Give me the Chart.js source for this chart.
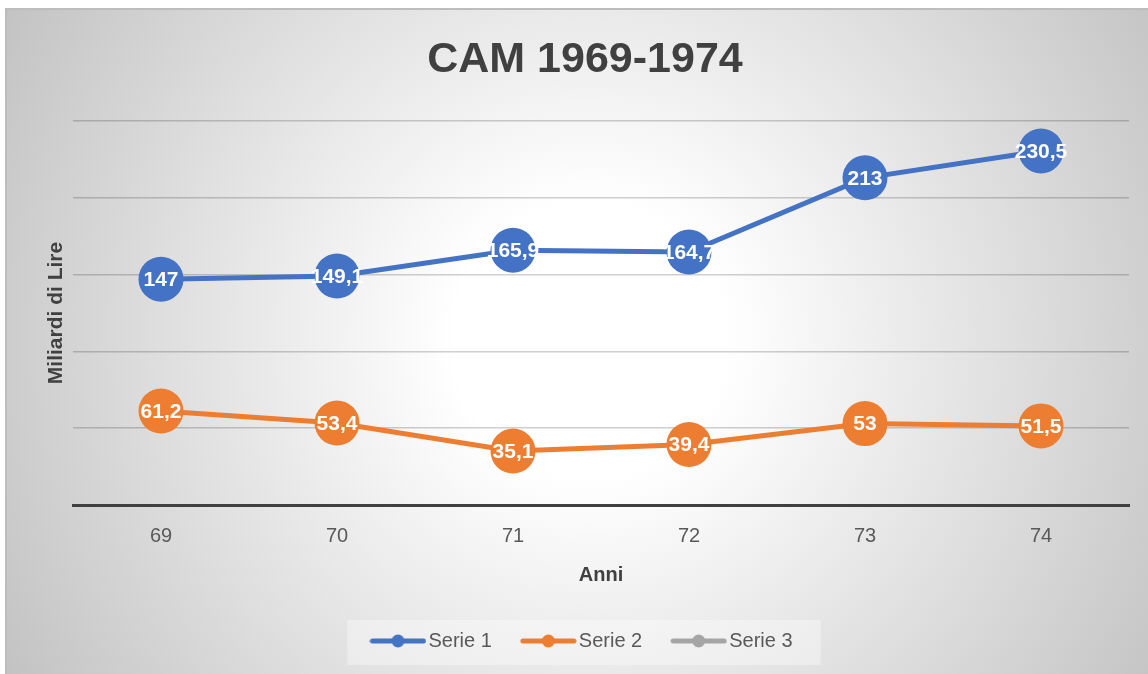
<!DOCTYPE html>
<html>
<head>
<meta charset="utf-8">
<title>CAM 1969-1974</title>
<script src="https://cdn.jsdelivr.net/npm/chart.js@4.4.1/dist/chart.umd.min.js"></script>
<style>
  html, body {margin: 0; padding: 0; background: #ffffff; overflow: hidden;}
  #wrap {position: absolute; left: 0; top: 0; width: 1170px; height: 674px;}
</style>
</head>
<body>
<div id="wrap"><canvas id="chart1canvas" width="1170" height="674"></canvas></div>
<script>
/* Data */
const years=["69","70","71","72","73","74"];
const serie1=[147,149.1,165.9,164.7,213,230.5];
const serie2=[61.2,53.4,35.1,39.4,53,51.5];
const serie3=[];
const seriesNames=["Serie 1","Serie 2","Serie 3"];
const seriesColors=["#4472c4","#ed7d31","#a5a5a5"];

const fontName="'Liberation Sans', Arial, sans-serif";
const canvasWidth=1170;
const plotLeft=73;
const plotRight=1129;

/**
 * Legend marker: line with a dot in the middle.
 */
function makeMarker(color) {
  const c=document.createElement("canvas");
  c.width=57;
  c.height=14;
  const ctx=c.getContext("2d");
  ctx.strokeStyle=color;
  ctx.lineWidth=5;
  ctx.lineCap="round";
  ctx.beginPath();
  ctx.moveTo(3,7);
  ctx.lineTo(54,7);
  ctx.stroke();
  ctx.fillStyle=color;
  ctx.beginPath();
  ctx.arc(28.5,7,6.5,0,Math.PI*2);
  ctx.fill();
  return c;
}
const markers=seriesColors.map(c=>makeMarker(c));

/* Background: frame with radial gradient, light box behind the legend */
const backgroundPlugin={
  id: "background",
  beforeDraw(chart) {
    const ctx=chart.ctx;
    const w=chart.width, h=chart.height;
    ctx.save();
    ctx.fillStyle="#ffffff";
    ctx.fillRect(0,0,w,h);
    const g=ctx.createRadialGradient(590,340,0,590,340,680);
    g.addColorStop(0,"#ffffff");
    g.addColorStop(0.2,"#ffffff");
    g.addColorStop(1,"#c2c2c2");
    ctx.fillStyle=g;
    ctx.fillRect(5,8,w-5,h-8);
    ctx.fillStyle="#bdbdbd";
    ctx.fillRect(5,8,w-5,2);
    ctx.fillRect(5,8,2,h-8);

    const boxes=chart.legend.legendHitBoxes;
    if (boxes && boxes.length>0) {
      const first=boxes[0], last=boxes[boxes.length-1];
      ctx.fillStyle="rgba(255,255,255,0.35)";
      ctx.fillRect(first.left-30,first.top-11,last.left+last.width-first.left+58,45);
    }
    ctx.restore();
  }
};

/* Value labels in white on the points */
const valueLabelPlugin={
  id: "valueLabels",
  afterDatasetsDraw(chart) {
    const ctx=chart.ctx;
    ctx.save();
    ctx.font="bold 21px "+fontName;
    ctx.fillStyle="#ffffff";
    ctx.textAlign="center";
    ctx.textBaseline="middle";
    chart.data.datasets.forEach((ds,i)=>{
      const meta=chart.getDatasetMeta(i);
      meta.data.forEach((pt,k)=>{
        const v=ds.data[k];
        if (v==null) return;
        ctx.fillText(String(v).replace(".",","),pt.x,pt.y+1);
      });
    });
    ctx.restore();
  }
};

const chartData={
  labels: years,
  datasets: [serie1,serie2,serie3].map((values,i)=>({
    label: seriesNames[i],
    data: values,
    borderColor: seriesColors[i],
    backgroundColor: seriesColors[i],
    borderWidth: 5,
    pointRadius: 22.5,
    pointHoverRadius: 22.5,
    pointBorderWidth: 0,
    pointBackgroundColor: seriesColors[i],
    tension: 0,
    clip: false,
    yAxisID: "y"
  }))
};

const chartOptions={
  responsive: false,
  animation: false,
  devicePixelRatio: 1,
  layout: {padding: {left: 0, right: 0, top: 0, bottom: 13}},
  scales: {
    x: {
      offset: true,
      grid: {display: false, drawTicks: false},
      border: {display: true, color: "#404040", width: 3},
      ticks: {color: "#595959", font: {family: fontName, size: 20}, padding: 19},
      title: {display: true, text: "Anni", color: "#404040", font: {family: fontName, size: 20, weight: "bold"}, padding: {top: 0, bottom: 8}},
      afterFit: scale=>{scale.height=90;}
    },
    y: {
      position: "left",
      min: 0,
      max: 250,
      ticks: {display: false, stepSize: 50},
      grid: {color: "rgba(0,0,0,0.19)", lineWidth: 1.5, drawTicks: false},
      border: {display: false},
      title: {display: true, text: "Miliardi di Lire", color: "#404040", font: {family: fontName, size: 21, weight: "bold"}, padding: {top: 44, bottom: 0}},
      afterFit: scale=>{scale.width=plotLeft;}
    },
    yRight: {
      position: "right",
      display: true,
      ticks: {display: false},
      grid: {display: false},
      border: {display: false},
      afterFit: scale=>{scale.width=canvasWidth-plotRight;}
    }
  },
  plugins: {
    title: {
      display: true,
      text: "CAM 1969-1974",
      color: "#404040",
      font: {family: fontName, size: 43, weight: "bold"},
      padding: {top: 34, bottom: 35.4}
    },
    legend: {
      position: "bottom",
      labels: {
        usePointStyle: true,
        pointStyleWidth: 41,
        padding: 36,
        color: "#595959",
        font: {family: fontName, size: 20},
        generateLabels: chart=>chart.data.datasets.map((ds,i)=>({
          text: ds.label,
          pointStyle: markers[i],
          fillStyle: "transparent",
          strokeStyle: "transparent",
          lineWidth: 0,
          fontColor: "#595959",
          hidden: false,
          datasetIndex: i
        }))
      }
    },
    tooltip: {enabled: false}
  }
};

new Chart(document.getElementById("chart1canvas"),{
  type: "line",
  data: chartData,
  options: chartOptions,
  plugins: [backgroundPlugin,valueLabelPlugin]
});
</script>
</body>
</html>
